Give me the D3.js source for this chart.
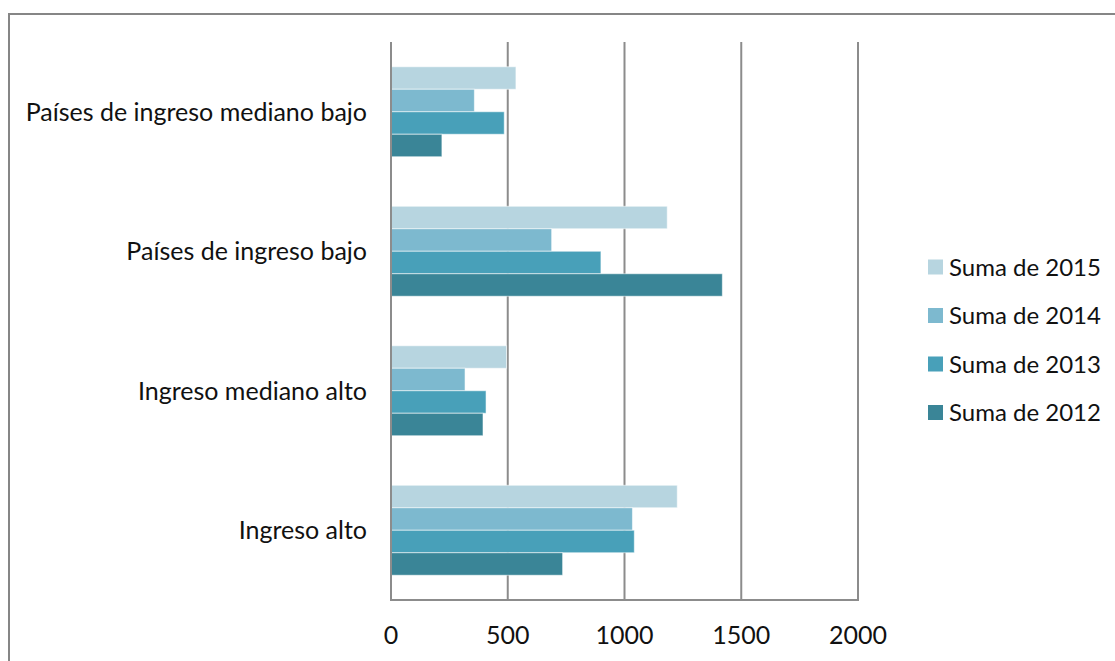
<!DOCTYPE html>
<html>
<head>
<meta charset="utf-8">
<script src="https://cdn.jsdelivr.net/npm/d3@7/dist/d3.min.js"></script>
<style>
  html, body { margin: 0; padding: 0; background: #fff; }
  svg { display: block; }
  text { font-family: Lato, "Open Sans", sans-serif; fill: #111; }
</style>
</head>
<body>
<svg id="chart" width="1115" height="661"></svg>
<script>
// Categories, top to bottom
const categories = [
  "Países de ingreso mediano bajo",
  "Países de ingreso bajo",
  "Ingreso mediano alto",
  "Ingreso alto"
];
// Series, drawn top to bottom within each group
const seriesNames = ["Suma de 2015", "Suma de 2014", "Suma de 2013", "Suma de 2012"];
const values2015 = [535, 1183, 495, 1226];
const values2014 = [357, 688, 317, 1034];
const values2013 = [485, 899, 407, 1042];
const values2012 = [218, 1419, 394, 735];
const seriesColors = ["#b7d5e0", "#7db9cf", "#48a0b9", "#3a8597"];
const xTicks = [0, 500, 1000, 1500, 2000];

const seriesValues = [values2015, values2014, values2013, values2012];

const svg = d3.select("#chart");
const plot = { left: 391, right: 858, top: 42, bottom: 600 };

// Outer chart frame (only top and left edges fall inside the view)
svg.append("line").attr("x1", 9).attr("x2", 1115).attr("y1", 14).attr("y2", 14)
  .attr("stroke", "#868686").attr("stroke-width", 2);
svg.append("line").attr("x1", 9).attr("x2", 9).attr("y1", 13).attr("y2", 661)
  .attr("stroke", "#868686").attr("stroke-width", 2);

const x = d3.scaleLinear().domain([0, 2000]).range([plot.left, plot.right]);
const y = d3.scaleBand().domain(categories).range([plot.top, plot.bottom])
  .paddingInner(0.355).paddingOuter(0.1775);
const ySeries = d3.scaleBand().domain(seriesNames).range([0, y.bandwidth()]);

// Vertical gridlines
svg.append("g").selectAll("line").data(xTicks.slice(1)).join("line")
  .attr("x1", d => x(d)).attr("x2", d => x(d))
  .attr("y1", plot.top).attr("y2", plot.bottom)
  .attr("stroke", "#8c8c8c").attr("stroke-width", 2);

// Bars
const groups = svg.append("g").selectAll("g").data(categories).join("g")
  .attr("transform", d => `translate(0,${y(d)})`);
groups.each(function(cat, ci) {
  d3.select(this).selectAll("rect").data(seriesNames).join("rect")
    .attr("x", x(0))
    .attr("y", s => ySeries(s))
    .attr("width", (s, si) => x(seriesValues[si][ci]) - x(0))
    .attr("height", ySeries.bandwidth())
    .attr("fill", (s, si) => seriesColors[si])
    .attr("stroke", "rgba(255,255,255,0.55)")
    .attr("stroke-width", 1);
});

// Axis lines
svg.append("line").attr("x1", plot.left).attr("x2", plot.left)
  .attr("y1", plot.top).attr("y2", plot.bottom + 1)
  .attr("stroke", "#8c8c8c").attr("stroke-width", 2);
svg.append("line").attr("x1", plot.left - 1).attr("x2", plot.right + 1)
  .attr("y1", plot.bottom).attr("y2", plot.bottom)
  .attr("stroke", "#8c8c8c").attr("stroke-width", 2);

// X tick labels
svg.append("g").selectAll("text").data(xTicks).join("text")
  .attr("x", d => x(d)).attr("y", 644)
  .attr("text-anchor", "middle")
  .style("font-size", "25px")
  .text(d => d);

// Category labels
svg.append("g").selectAll("text").data(categories).join("text")
  .attr("x", 367).attr("y", d => y(d) + y.bandwidth() / 2)
  .attr("dy", "0.35em")
  .attr("text-anchor", "end")
  .style("font-size", "25px")
  .text(d => d);

// Legend
const legend = svg.append("g").selectAll("g").data(seriesNames).join("g")
  .attr("transform", (d, i) => `translate(928,${267 + i * 48.5})`);
legend.append("rect").attr("x", 0).attr("y", -7.5).attr("width", 15).attr("height", 15)
  .attr("fill", (d, i) => seriesColors[i]);
legend.append("text").attr("x", 21).attr("y", 0).attr("dy", "0.36em")
  .style("font-size", "24px")
  .text(d => d);
</script>
</body>
</html>
